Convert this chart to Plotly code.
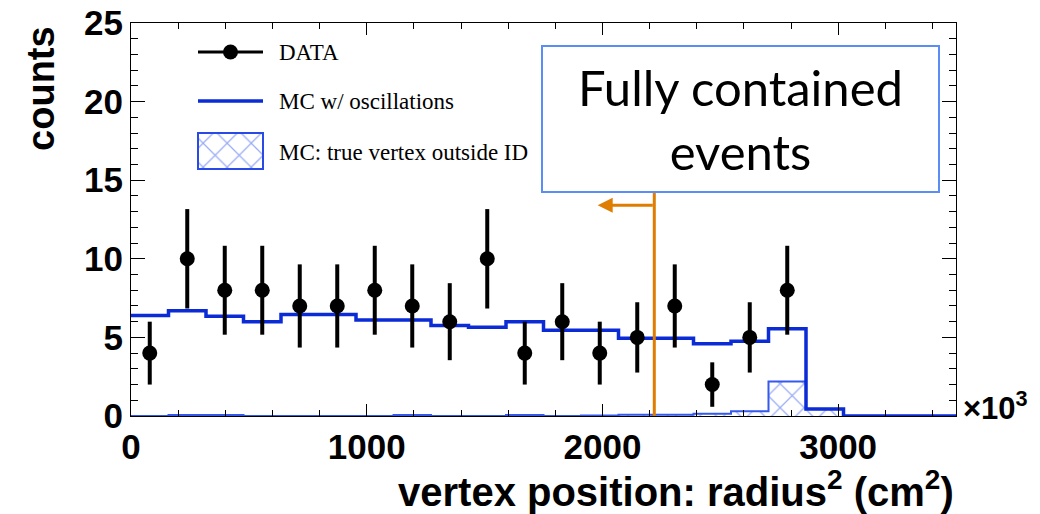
import numpy as np
import plotly.graph_objects as go

# binning: 22 bins over 0..3500 (x10^3 cm^2)
x_min, x_max, n_bins = 0, 3500, 22

# observed counts per bin (first 18 bins)
data_counts = [4, 10, 8, 8, 7, 7, 8, 7, 6, 10, 4, 6, 4, 5, 7, 2, 5, 8]

# MC with oscillations, per bin
mc_osc = [6.4, 6.7, 6.35, 6.0, 6.45, 6.45, 6.1, 6.1, 5.75, 5.65, 6.0, 5.45,
          5.45, 4.95, 4.95, 4.6, 4.75, 5.55, 0.45, 0.0, 0.0, 0.0]

# MC: true vertex outside ID, per bin
mc_out = [0.0, 0.07, 0.07, 0.0, 0.0, 0.0, 0.0, 0.07, 0.0, 0.0, 0.07, 0.0,
          0.03, 0.08, 0.08, 0.15, 0.3, 2.2, 0.45, 0.0, 0.0, 0.0]

# fully-contained cut (r = 1490 cm) and arrow
fc_cut = 2220
cut_top = 14.9
arrow_y = 13.4
arrow_end = 1980

# legend layout, in page pixels (overlay axes x2/y2)
leg_x0, leg_x1, leg_text_x = 198, 263, 277
leg_rows = [52, 101, 152]
leg_box = (133, 169)
leg_labels = ["DATA", "MC w/ oscillations", "MC: true vertex outside ID"]

edges = np.linspace(x_min, x_max, n_bins + 1)
width = edges[1] - edges[0]
centers = edges[:-1] + width / 2
data_x = centers[:len(data_counts)]
data_err = np.sqrt(data_counts)

BLUE = "#0a2bd6"
HATCH = "#3459ec"
ORANGE = "#df7d00"
SANS = "Liberation Sans, Arial"
PAT = dict(shape="x", fgcolor=HATCH, bgcolor="white", size=17, solidity=0.14)

fig = go.Figure()

# hatched histogram (fill + outline)
fig.add_trace(go.Bar(
    x=centers, y=mc_out, width=width, showlegend=False,
    marker=dict(color="white", line=dict(width=0), pattern=PAT),
))
fig.add_trace(go.Scatter(
    x=edges, y=list(mc_out) + [mc_out[-1]], mode="lines", line_shape="hv",
    line=dict(color=HATCH, width=2), showlegend=False,
))

# MC line histogram
fig.add_trace(go.Scatter(
    x=edges, y=list(mc_osc) + [mc_osc[-1]], mode="lines", line_shape="hv",
    line=dict(color=BLUE, width=3.5), showlegend=False,
))

# data points
fig.add_trace(go.Scatter(
    x=data_x, y=data_counts, mode="markers", showlegend=False,
    marker=dict(color="black", size=15),
    error_y=dict(type="data", array=data_err, color="black", thickness=4, width=0),
))

# cut line and arrow
fig.add_shape(type="line", x0=fc_cut, x1=fc_cut, y0=0, y1=cut_top,
              line=dict(color=ORANGE, width=3), layer="above")
fig.add_annotation(x=arrow_end, y=arrow_y, ax=fc_cut, ay=arrow_y, axref="x", ayref="y",
                   xref="x", yref="y", text="", showarrow=True, arrowhead=2,
                   arrowsize=1, arrowwidth=3, arrowcolor=ORANGE)

# text box
fig.add_annotation(x=2584, y=18.9, xref="x", yref="y", text="Fully contained<br>events",
                   showarrow=False, font=dict(family="Lato, Noto Sans", size=49, color="black"),
                   width=393, height=142, bordercolor="#5b8ef5", borderwidth=2,
                   bgcolor="white", align="center", valign="middle")

# hand-drawn legend on overlay axes
fig.add_trace(go.Scatter(
    x=[leg_x0, (leg_x0 + leg_x1) / 2, leg_x1], y=[leg_rows[0]] * 3, xaxis="x2", yaxis="y2",
    mode="lines", line=dict(color="black", width=3), showlegend=False, hoverinfo="skip",
))
fig.add_trace(go.Scatter(
    x=[(leg_x0 + leg_x1) / 2], y=[leg_rows[0]], xaxis="x2", yaxis="y2",
    mode="markers", marker=dict(color="black", size=15), showlegend=False, hoverinfo="skip",
))
fig.add_trace(go.Scatter(
    x=[leg_x0, leg_x1], y=[leg_rows[1]] * 2, xaxis="x2", yaxis="y2",
    mode="lines", line=dict(color=BLUE, width=3.5), showlegend=False, hoverinfo="skip",
))
fig.add_trace(go.Bar(
    x=[(leg_x0 + leg_x1) / 2], y=[leg_box[1] - leg_box[0]], base=[leg_box[0]],
    width=leg_x1 - leg_x0, xaxis="x2", yaxis="y2", showlegend=False, hoverinfo="skip",
    marker=dict(color="white", line=dict(color="#2a4ae8", width=2), pattern=PAT),
))
for lab, yy in zip(leg_labels, leg_rows):
    fig.add_annotation(x=leg_text_x, y=yy, xref="x2", yref="y2", xanchor="left",
                       yanchor="middle", text=lab, showarrow=False,
                       font=dict(family="Liberation Serif, Times New Roman", size=23, color="black"))

# axis titles
fig.add_annotation(x=1.0, y=-0.185, xref="paper", yref="paper", xanchor="right", yanchor="middle",
                   text="vertex position: radius<sup>2</sup> (cm<sup>2</sup>)",
                   showarrow=False, font=dict(family=SANS, size=40, color="black", weight="bold"))
fig.add_annotation(x=-0.110, y=0.997, xref="paper", yref="paper", xanchor="center", yanchor="top",
                   text="counts", textangle=-90, showarrow=False,
                   font=dict(family=SANS, size=38, color="black", weight="bold"))
fig.add_annotation(x=1.006, y=0.025, xref="paper", yref="paper", xanchor="left", yanchor="middle",
                   text="×10<sup>3</sup>", showarrow=False,
                   font=dict(family=SANS, size=31, color="black", weight="bold"))

tickfont = dict(family=SANS, size=35, color="black", weight="bold")
fig.update_xaxes(range=[x_min, x_max], showline=True, linecolor="black", linewidth=1,
                 mirror="allticks", ticks="inside", ticklen=12, tickcolor="black",
                 tickvals=[0, 1000, 2000, 3000], tickfont=tickfont, showgrid=False,
                 zeroline=False, automargin=False, ticklabeloverflow="allow",
                 minor=dict(dtick=200, ticks="inside", ticklen=6, tickcolor="black"))
fig.update_yaxes(range=[0, 25], showline=True, linecolor="black", linewidth=1,
                 mirror="allticks", ticks="inside", ticklen=14, tickcolor="black",
                 dtick=5, tickfont=tickfont, showgrid=False, zeroline=False, automargin=False,
                 ticklabeloverflow="allow",
                 minor=dict(dtick=1, ticks="inside", ticklen=7, tickcolor="black"))

fig.update_layout(
    # page body has an 8px margin, so the figure is 8px smaller on each side
    width=1032, height=506,
    margin=dict(l=123, r=84, t=15, b=98),
    plot_bgcolor="white", paper_bgcolor="white",
    barmode="overlay", showlegend=False,
    xaxis2=dict(overlaying="x", range=[131, 956], visible=False, fixedrange=True),
    yaxis2=dict(overlaying="y", range=[416, 23], visible=False, fixedrange=True),
)

fig.write_html("out.html")
